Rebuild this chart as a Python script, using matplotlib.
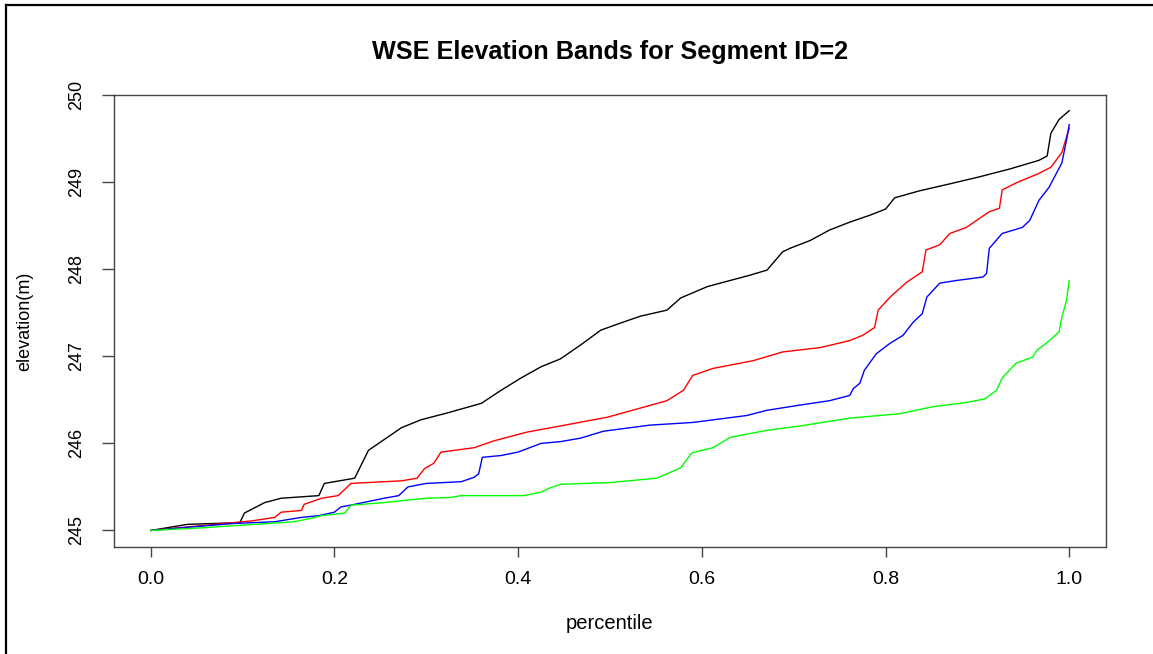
import matplotlib
matplotlib.use("Agg")
import matplotlib.pyplot as plt
from matplotlib.lines import Line2D

plt.rcParams['font.family'] = ['Liberation Sans', 'DejaVu Sans']

# sorted elevations, one array pair per band
black_x = [0.0, 0.04, 0.097, 0.102, 0.124, 0.142, 0.183, 0.189, 0.222, 0.237, 0.255,
           0.273, 0.294, 0.323, 0.36, 0.38, 0.403, 0.425, 0.446, 0.468, 0.49, 0.511,
           0.533, 0.562, 0.577, 0.606, 0.62, 0.652, 0.671, 0.688, 0.696, 0.718, 0.739,
           0.761, 0.783, 0.8, 0.81, 0.837, 0.87, 0.902, 0.935, 0.967, 0.976, 0.98,
           0.989, 1.0]
black_y = [245.0, 245.07, 245.09, 245.2, 245.32, 245.37, 245.4, 245.54, 245.6, 245.92,
           246.05, 246.18, 246.27, 246.35, 246.46, 246.6, 246.75, 246.88, 246.97,
           247.13, 247.3, 247.38, 247.46, 247.53, 247.67, 247.8, 247.84, 247.93, 247.99,
           248.2, 248.24, 248.33, 248.45, 248.54, 248.62, 248.69, 248.82, 248.9,
           248.98, 249.06, 249.15, 249.25, 249.3, 249.56, 249.72, 249.82]

red_x = [0.0, 0.09, 0.11, 0.135, 0.142, 0.164, 0.167, 0.186, 0.204, 0.218, 0.273,
         0.29, 0.298, 0.308, 0.316, 0.352, 0.374, 0.41, 0.446, 0.497, 0.562, 0.58,
         0.59, 0.612, 0.656, 0.688, 0.729, 0.761, 0.775, 0.788, 0.792, 0.805, 0.823,
         0.84, 0.844, 0.859, 0.87, 0.888, 0.913, 0.924, 0.927, 0.942, 0.967, 0.98,
         0.992, 0.996, 1.0]
red_y = [245.0, 245.09, 245.11, 245.15, 245.21, 245.23, 245.3, 245.37, 245.4, 245.54,
         245.57, 245.6, 245.71, 245.77, 245.9, 245.95, 246.03, 246.13, 246.2, 246.3,
         246.49, 246.61, 246.78, 246.86, 246.95, 247.05, 247.1, 247.18, 247.24, 247.33,
         247.53, 247.68, 247.85, 247.97, 248.22, 248.28, 248.41, 248.48, 248.66,
         248.7, 248.91, 248.99, 249.1, 249.17, 249.34, 249.48, 249.62]

blue_x = [0.0, 0.09, 0.135, 0.164, 0.183, 0.2, 0.207, 0.222, 0.254, 0.27, 0.28,
          0.3, 0.338, 0.352, 0.357, 0.361, 0.381, 0.4, 0.425, 0.446, 0.468, 0.493,
          0.544, 0.59, 0.649, 0.671, 0.707, 0.739, 0.761, 0.765, 0.772, 0.777, 0.79,
          0.805, 0.819, 0.83, 0.84, 0.845, 0.859, 0.877, 0.906, 0.91, 0.913, 0.927,
          0.949, 0.957, 0.967, 0.978, 0.992, 0.997, 1.0]
blue_y = [245.0, 245.08, 245.1, 245.15, 245.17, 245.21, 245.27, 245.3, 245.37, 245.4,
          245.5, 245.54, 245.56, 245.61, 245.65, 245.84, 245.86, 245.9, 246.0, 246.02,
          246.06, 246.14, 246.21, 246.24, 246.32, 246.38, 246.44, 246.49, 246.55,
          246.63, 246.69, 246.84, 247.03, 247.15, 247.24, 247.39, 247.49, 247.68,
          247.84, 247.87, 247.91, 247.95, 248.24, 248.41, 248.48, 248.56, 248.79,
          248.94, 249.22, 249.48, 249.66]

green_x = [0.0, 0.055, 0.128, 0.156, 0.175, 0.186, 0.211, 0.218, 0.254, 0.29, 0.302,
           0.327, 0.338, 0.406, 0.425, 0.435, 0.446, 0.5, 0.551, 0.577, 0.589, 0.612,
           0.631, 0.671, 0.707, 0.761, 0.815, 0.851, 0.888, 0.908, 0.921, 0.927, 0.942,
           0.96, 0.965, 0.975, 0.989, 0.992, 0.997, 1.0]
green_y = [245.0, 245.03, 245.08, 245.1, 245.14, 245.17, 245.2, 245.29, 245.32, 245.36,
           245.37, 245.38, 245.4, 245.4, 245.44, 245.49, 245.53, 245.55, 245.6, 245.72,
           245.89, 245.95, 246.07, 246.15, 246.2, 246.29, 246.34, 246.42, 246.47, 246.51,
           246.61, 246.75, 246.92, 246.99, 247.07, 247.15, 247.28, 247.45, 247.64,
           247.87]

x_ticks = [0.0, 0.2, 0.4, 0.6, 0.8, 1.0]
y_ticks = [245, 246, 247, 248, 249, 250]

fig = plt.figure(figsize=(11.53, 6.54), dpi=100)
ax = fig.add_axes([0.0989, 0.1636, 0.8603, 0.6911])

ax.plot(black_x, black_y, color="black", lw=1.0)
ax.plot(red_x, red_y, color="red", lw=1.0)
ax.plot(blue_x, blue_y, color="blue", lw=1.0)
ax.plot(green_x, green_y, color="#00ff00", lw=1.0)

ax.set_xlim(-0.04, 1.04)
ax.set_ylim(244.81, 250.0)
ax.set_xticks(x_ticks)
ax.set_xticklabels([f"{t:.1f}" for t in x_ticks])
ax.set_yticks(y_ticks)
ax.set_yticklabels([str(t) for t in y_ticks], rotation=90, va="center")

for s in ax.spines.values():
    s.set_color("#444444")
    s.set_linewidth(1.0)
ax.tick_params(axis="x", length=7.2, width=1, color="#444444", pad=10, labelsize=14)
ax.tick_params(axis="y", length=8.6, width=1, color="#444444", pad=12, labelsize=13)

# title and axis labels placed in figure coords
fig.text(0.529, 0.9205, "WSE Elevation Bands for Segment ID=2", fontsize=18.2,
         fontweight="bold", ha="center", va="center")
fig.text(0.529, 0.0459, "percentile", fontsize=14.5, ha="center", va="center")
fig.text(0.0217, 0.509, "elevation(m)", fontsize=13, rotation=90, ha="center", va="center")

# frame of the screenshot (left and top edges)
fig.add_artist(Line2D([0.0052, 0.0052], [0, 0.993], transform=fig.transFigure, color="black", lw=1.6))
fig.add_artist(Line2D([0.0052, 1.0], [0.993, 0.993], transform=fig.transFigure, color="black", lw=1.6))

fig.savefig("out.png", dpi=100)
